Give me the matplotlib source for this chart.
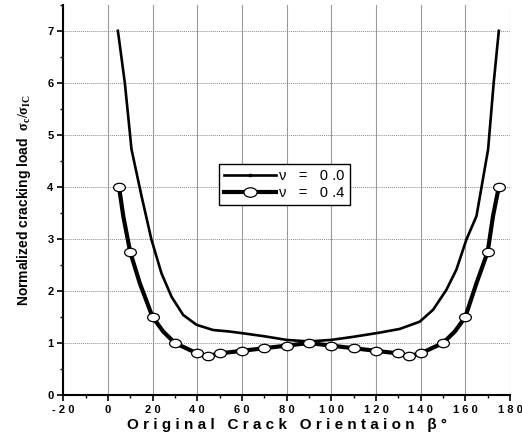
import matplotlib.pyplot as plt
from matplotlib.lines import Line2D
from matplotlib.path import Path
from matplotlib.transforms import Affine2D
from matplotlib.ticker import MultipleLocator

plt.rcParams['font.family'] = ['Liberation Sans', 'DejaVu Sans']
plt.rcParams['mathtext.fontset'] = 'custom'
plt.rcParams['mathtext.rm'] = 'Liberation Serif'
plt.rcParams['mathtext.it'] = 'Liberation Serif:italic'
plt.rcParams['mathtext.bf'] = 'Liberation Serif:bold'

# nu = 0.0 curve
beta_nu0 = [4.5, 7.6, 10.6, 15.1, 19.5, 24.0, 28.5, 33.7, 39.7, 47.1, 54.6, 60, 70, 80, 90,
            100, 110, 121.7, 130.6, 139.6, 145.6, 151.5, 156, 160.5, 165, 170.2, 172.7, 175]
load_nu0 = [7.0, 6.0, 4.72, 3.82, 2.99, 2.34, 1.89, 1.54, 1.35, 1.25, 1.22, 1.19, 1.13, 1.06, 1.03,
            1.06, 1.12, 1.20, 1.27, 1.41, 1.64, 2.02, 2.41, 2.99, 3.44, 4.72, 6.0, 7.0]

# nu = 0.4 curve and its marked points
beta_nu4 = [5, 6.9, 10, 14.3, 20, 24.8, 30, 40, 45, 50, 60, 70, 80, 90, 100, 110, 120,
            130, 135, 140, 150, 155.3, 160, 165, 170, 172.4, 175]
load_nu4 = [4.0, 3.44, 2.75, 2.15, 1.5, 1.22, 1.0, 0.8, 0.75, 0.8, 0.85, 0.9, 0.95, 1.0, 0.95, 0.9, 0.85,
            0.8, 0.75, 0.8, 1.0, 1.22, 1.5, 2.15, 2.75, 3.44, 4.0]
beta_pts = [5, 10, 20, 30, 40, 45, 50, 60, 70, 80, 90, 100, 110, 120, 130, 135, 140, 150, 160, 170, 175]
load_pts = [4.0, 2.75, 1.5, 1.0, 0.8, 0.75, 0.8, 0.85, 0.9, 0.95, 1.0, 0.95, 0.9, 0.85, 0.8, 0.75,
            0.8, 1.0, 1.5, 2.75, 4.0]

x_ticks = [-20, 0, 20, 40, 60, 80, 100, 120, 140, 160, 180]
x_ticklabels = ['- 2 0', '0', '2 0', '4 0', '6 0', '8 0', '1 0 0', '1 2 0', '1 4 0', '1 6 0', '1 8 0']
y_ticks = [0, 1, 2, 3, 4, 5, 6, 7]
legend_labels = ['ν   =   0 .0', 'ν   =   0 .4']

# ellipse marker
ellipse = Path.unit_circle().transformed(Affine2D().scale(1.4, 1.0))

fig = plt.figure(figsize=(5.22, 4.37), dpi=100)
ax = fig.add_axes([0.121, 0.096, 0.856, 0.893])

ax.plot(beta_nu0, load_nu0, color='black', lw=1.9, zorder=3)
ax.plot(beta_nu4, load_nu4, color='black', lw=3.0, zorder=3)
ax.plot(beta_pts, load_pts, ls='none', marker=ellipse, ms=8.5, mfc='white',
        mec='black', mew=0.9, zorder=4)

ax.set_xlim(-20, 180)
ax.set_ylim(0, 7.5)
ax.set_xticks(x_ticks)
ax.set_xticklabels(x_ticklabels, fontsize=8, fontweight='bold')
ax.set_yticks(y_ticks)
ax.set_yticklabels([str(v) for v in y_ticks], fontsize=8, fontweight='bold')
ax.xaxis.set_minor_locator(MultipleLocator(10))
ax.yaxis.set_minor_locator(MultipleLocator(0.5))
ax.tick_params(which='major', direction='out', length=4, width=1.2, pad=3)
ax.tick_params(which='minor', direction='out', length=2.5, width=1.0)

ax.spines['top'].set_visible(False)
ax.spines['right'].set_visible(False)
ax.spines['left'].set_linewidth(1.5)
ax.spines['bottom'].set_linewidth(1.5)

ax.grid(axis='x', which='major', color='#9a9a9a', lw=0.8, ls='-')
ax.grid(axis='y', which='major', color='#8a8a8a', lw=0.7, ls=(0, (1, 1)))

ax.set_xlabel('O r i g i n a l   C r a c k   O r i e n t a i o n   β °',
              fontsize=11, fontweight='bold', labelpad=2)
ax.set_ylabel(r'Normalized cracking load  $\mathbf{\sigma_c/\sigma_{IC}}$',
              fontsize=10, fontweight='bold', labelpad=10)

handles = [
    Line2D([], [], color='black', lw=1.9, marker='s', ms=2),
    Line2D([], [], color='black', lw=3.0, marker=ellipse, ms=9.5, mfc='white', mec='black', mew=0.9),
]
ax.legend(handles, legend_labels, loc='upper left',
          bbox_to_anchor=(0.348, 0.592), fancybox=False, edgecolor='black',
          framealpha=1, fontsize=10.5, handlelength=3.6, borderpad=0.35,
          labelspacing=0.2, handletextpad=0.2, borderaxespad=0)

plt.savefig('out.png', dpi=100)
